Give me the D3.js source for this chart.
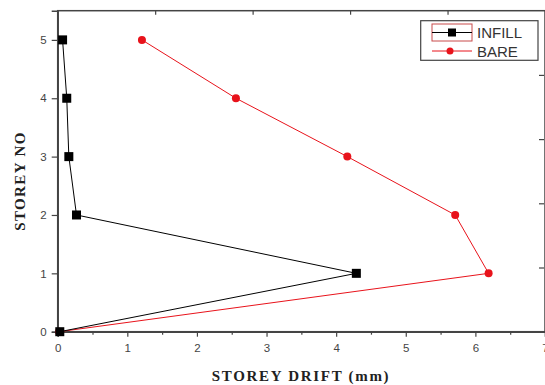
<!DOCTYPE html>
<html>
<head>
<meta charset="utf-8">
<script src="https://cdn.jsdelivr.net/npm/d3@7"></script>
<style>
  html, body { margin: 0; padding: 0; background: #fff; }
  svg { display: block; }
</style>
</head>
<body>
<svg id="chart" width="545" height="385"></svg>
<script>
// Storey levels and drift per storey (mm)
const storeys = [0, 1, 2, 3, 4, 5];
const infillDrift = [0.03, 4.29, 0.27, 0.16, 0.13, 0.07];
const bareDrift = [0.02, 6.19, 5.71, 4.16, 2.56, 1.21];
const xTicks = [0, 1, 2, 3, 4, 5, 6, 7];
const yTicks = [0, 1, 2, 3, 4, 5];
const seriesNames = ["INFILL", "BARE"];

const svg = d3.select("#chart");
const plotL = 57.7, plotR = 545, plotT = 10.7, plotB = 331.7;

const x = d3.scaleLinear().domain([0, 7]).range([plotL, plotR]);
const y = d3.scaleLinear().domain([0, 5.5]).range([plotB, plotT]);
// Unlabelled frame axes on top and right
const xTop = d3.scaleLinear().domain([0, 5]).range([plotL, plotR]);
const yRight = d3.scaleLinear().domain([0, 5]).range([plotB, plotT]);

const axisColor = "#444";
const tickFont = "Arial, 'Liberation Sans', sans-serif";

// frame
svg.append("rect")
  .attr("x", plotL).attr("y", plotT)
  .attr("width", plotR - plotL).attr("height", plotB - plotT)
  .attr("fill", "none").attr("stroke", axisColor).attr("stroke-width", 1.5);

// bottom axis: major + minor ticks
svg.append("g").attr("transform", `translate(0,${plotB})`)
  .call(d3.axisBottom(x).tickValues(xTicks).tickFormat(d3.format("d")).tickSize(5).tickPadding(7));
svg.append("g").attr("transform", `translate(0,${plotB})`)
  .call(d3.axisBottom(x).tickValues(d3.range(0.5, 7, 1)).tickFormat("").tickSize(3))
  .call(g => g.select(".domain").remove());

// left axis
svg.append("g").attr("transform", `translate(${plotL},0)`)
  .call(d3.axisLeft(y).tickValues(yTicks).tickFormat(d3.format("d")).tickSize(6).tickPadding(5));

// top and right inner ticks
svg.append("g").attr("transform", `translate(0,${plotT})`)
  .call(d3.axisBottom(xTop).tickValues([1, 2, 3, 4]).tickFormat("").tickSize(4))
  .call(g => g.select(".domain").remove());
svg.append("g").attr("transform", `translate(${plotR - 1},0)`)
  .call(d3.axisLeft(yRight).tickValues([1, 2, 3, 4]).tickFormat("").tickSize(5))
  .call(g => g.select(".domain").remove());

svg.selectAll(".domain").attr("stroke", axisColor).attr("stroke-width", 1.5);
svg.selectAll(".tick line").attr("stroke", axisColor).attr("stroke-width", 1.2);
svg.selectAll(".tick text")
  .attr("fill", "#444").attr("font-family", tickFont).attr("font-size", 11.5);

// series
const infill = storeys.map((s, i) => ({ x: infillDrift[i], y: s }));
const bare = storeys.map((s, i) => ({ x: bareDrift[i], y: s }));
const line = d3.line().x(d => x(d.x)).y(d => y(d.y));

const red = "#e8131b";

svg.append("path").datum(bare)
  .attr("d", line).attr("fill", "none").attr("stroke", red).attr("stroke-width", 1);
svg.append("path").datum(infill)
  .attr("d", line).attr("fill", "none").attr("stroke", "#000").attr("stroke-width", 1);

svg.selectAll(".bareDot").data(bare).join("circle")
  .attr("cx", d => x(d.x)).attr("cy", d => y(d.y)).attr("r", 4)
  .attr("fill", red);
svg.selectAll(".infillDot").data(infill).join("rect")
  .attr("x", d => x(d.x) - 4.5).attr("y", d => y(d.y) - 4.5)
  .attr("width", 9).attr("height", 9).attr("fill", "#000");

// axis titles
const titleFont = "'Times New Roman', 'Liberation Serif', serif";
svg.append("text")
  .attr("x", 301).attr("y", 380.5)
  .attr("text-anchor", "middle")
  .attr("font-family", titleFont).attr("font-weight", "bold").attr("font-size", 15)
  .attr("letter-spacing", 1.7)
  .attr("fill", "#222")
  .text("STOREY DRIFT (mm)");
svg.append("text")
  .attr("transform", "translate(24.5,181) rotate(-90)")
  .attr("text-anchor", "middle")
  .attr("font-family", titleFont).attr("font-weight", "bold").attr("font-size", 15)
  .attr("letter-spacing", 1.4)
  .attr("fill", "#222")
  .text("STOREY NO");

// legend
const lg = svg.append("g");
lg.append("rect")
  .attr("x", 420.7).attr("y", 20.7).attr("width", 117.3).attr("height", 39.6)
  .attr("fill", "#fff").attr("stroke", axisColor).attr("stroke-width", 1.2);
lg.append("rect")
  .attr("x", 432).attr("y", 24).attr("width", 40).attr("height", 17)
  .attr("fill", "none").attr("stroke", "#c84a4a").attr("stroke-width", 1);
const rows = [
  { name: seriesNames[0], color: "#000", cy: 32.5, shape: "square" },
  { name: seriesNames[1], color: red, cy: 51, shape: "circle" }
];
rows.forEach(r => {
  lg.append("line").attr("x1", 432).attr("x2", 472).attr("y1", r.cy).attr("y2", r.cy)
    .attr("stroke", r.color).attr("stroke-width", 1);
  if (r.shape === "square") {
    lg.append("rect").attr("x", 452 - 4).attr("y", r.cy - 4).attr("width", 8).attr("height", 8).attr("fill", r.color);
  } else {
    lg.append("circle").attr("cx", 450).attr("cy", r.cy).attr("r", 3.5).attr("fill", r.color);
  }
  lg.append("text").attr("x", 477).attr("y", r.cy + 5.5)
    .attr("font-family", tickFont).attr("font-size", 15).attr("fill", "#333")
    .text(r.name);
});
</script>
</body>
</html>
